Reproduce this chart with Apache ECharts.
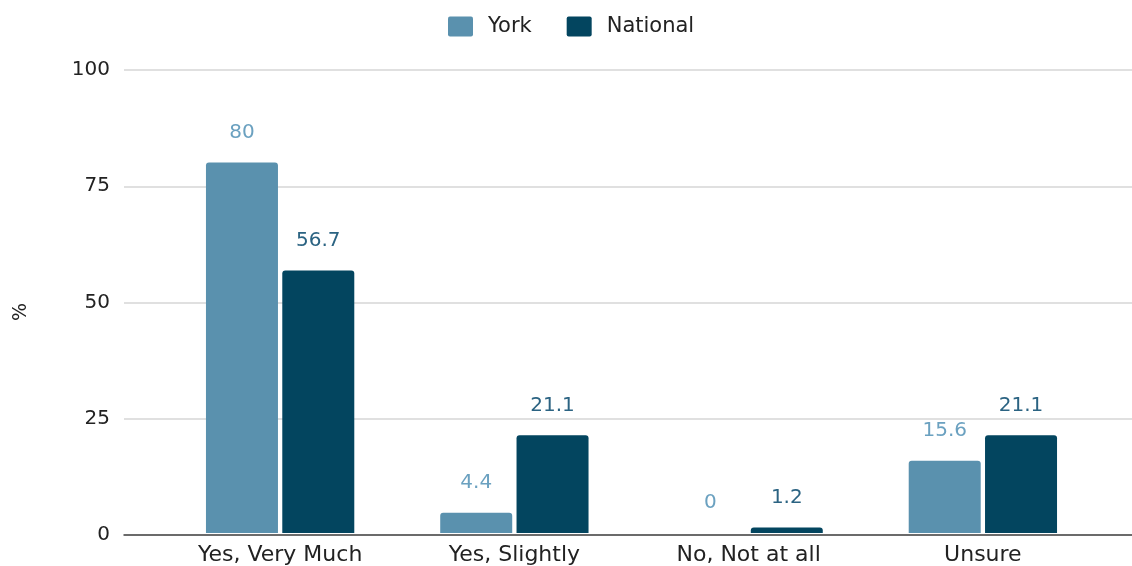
<!DOCTYPE html>
<html>
<head>
<meta charset="utf-8">
<title>York vs National</title>
<script src="https://cdn.jsdelivr.net/npm/echarts@6/dist/echarts.min.js"></script>
<style>
  html, body { margin: 0; padding: 0; background: #ffffff; }
  #chart { width: 1132px; height: 566px; }
</style>
</head>
<body>
<div id="chart"></div>
<script>
// Survey responses, percentage of respondents
const categories = ['Yes, Very Much', 'Yes, Slightly', 'No, Not at all', 'Unsure'];
const yorkValues = [80, 4.4, 0, 15.6];
const nationalValues = [56.7, 21.1, 1.2, 21.1];
const seriesNames = ['York', 'National'];
const yTicks = [0, 25, 50, 75, 100];

const FONT = 'DejaVu Sans';
const YORK_BAR = '#5a91ae';
const NATIONAL_BAR = '#03455f';
const YORK_LABEL = '#6ba1c0';
const NATIONAL_LABEL = '#2b6382';

// small square with slightly rounded corners for the legend
const LEGEND_ICON = 'path://M2,0H23A2,2 0 0 1 25,2V18A2,2 0 0 1 23,20H2A2,2 0 0 1 0,18V2A2,2 0 0 1 2,0Z';

const chart = echarts.init(document.getElementById('chart'), null, { renderer: 'canvas' });

const plotTop = 70, plotBottom = 31;

const option = {
  animation: false,
  backgroundColor: '#ffffff',
  textStyle: { fontFamily: FONT },
  legend: {
    data: seriesNames,
    left: 448,
    top: 16,
    padding: 0,
    itemWidth: 25,
    itemHeight: 20,
    itemGap: 35,
    icon: LEGEND_ICON,
    textStyle: { fontFamily: FONT, fontSize: 21, color: '#222222', padding: [0, 0, 0, 10] }
  },
  graphic: [
    {
      type: 'text', x: 21, y: 312, rotation: Math.PI / 2,
      style: { text: '%', font: '19px "DejaVu Sans"', fill: '#222222', align: 'center', verticalAlign: 'middle' }
    }
  ],
  grid: [
    // full-width grid carrying the value gridlines and the zero line
    { left: 124, right: 0, top: plotTop, bottom: plotBottom, containLabel: false },
    // inner grid carrying the bars
    { left: 163, right: 32, top: plotTop, bottom: plotBottom, containLabel: false }
  ],
  xAxis: [
    {
      gridIndex: 0, type: 'value', min: 0, max: 1,
      axisLine: { show: true, onZero: false, lineStyle: { color: '#444444', width: 1.5 } },
      axisTick: { show: false }, axisLabel: { show: false }, splitLine: { show: false }
    },
    {
      gridIndex: 1, type: 'category', data: categories,
      axisLine: { show: false }, axisTick: { show: false },
      axisLabel: { fontFamily: FONT, fontSize: 22, color: '#222222', margin: 11 }
    }
  ],
  yAxis: [
    {
      gridIndex: 0, type: 'value', min: yTicks[0], max: yTicks[yTicks.length - 1], interval: 25,
      axisLine: { show: false }, axisTick: { show: false },
      axisLabel: { fontFamily: FONT, fontSize: 20, color: '#222222', margin: 14 },
      splitLine: { show: true, lineStyle: { color: '#d6d6d6', width: 1.5 } }
    },
    {
      gridIndex: 1, type: 'value', min: yTicks[0], max: yTicks[yTicks.length - 1], interval: 25,
      axisLine: { show: false }, axisTick: { show: false }, axisLabel: { show: false },
      splitLine: { show: false }
    }
  ],
  series: [
    {
      name: seriesNames[0], type: 'bar', xAxisIndex: 1, yAxisIndex: 1,
      data: yorkValues, barWidth: 72, barGap: '6%',
      itemStyle: { color: YORK_BAR, borderRadius: [3, 3, 0, 0] },
      label: { show: true, position: 'top', distance: 20, fontFamily: FONT, fontSize: 20, color: YORK_LABEL }
    },
    {
      name: seriesNames[1], type: 'bar', xAxisIndex: 1, yAxisIndex: 1,
      data: nationalValues, barWidth: 72,
      itemStyle: { color: NATIONAL_BAR, borderRadius: [3, 3, 0, 0] },
      label: { show: true, position: 'top', distance: 20, fontFamily: FONT, fontSize: 20, color: NATIONAL_LABEL }
    }
  ]
};

chart.setOption(option);
</script>
</body>
</html>
